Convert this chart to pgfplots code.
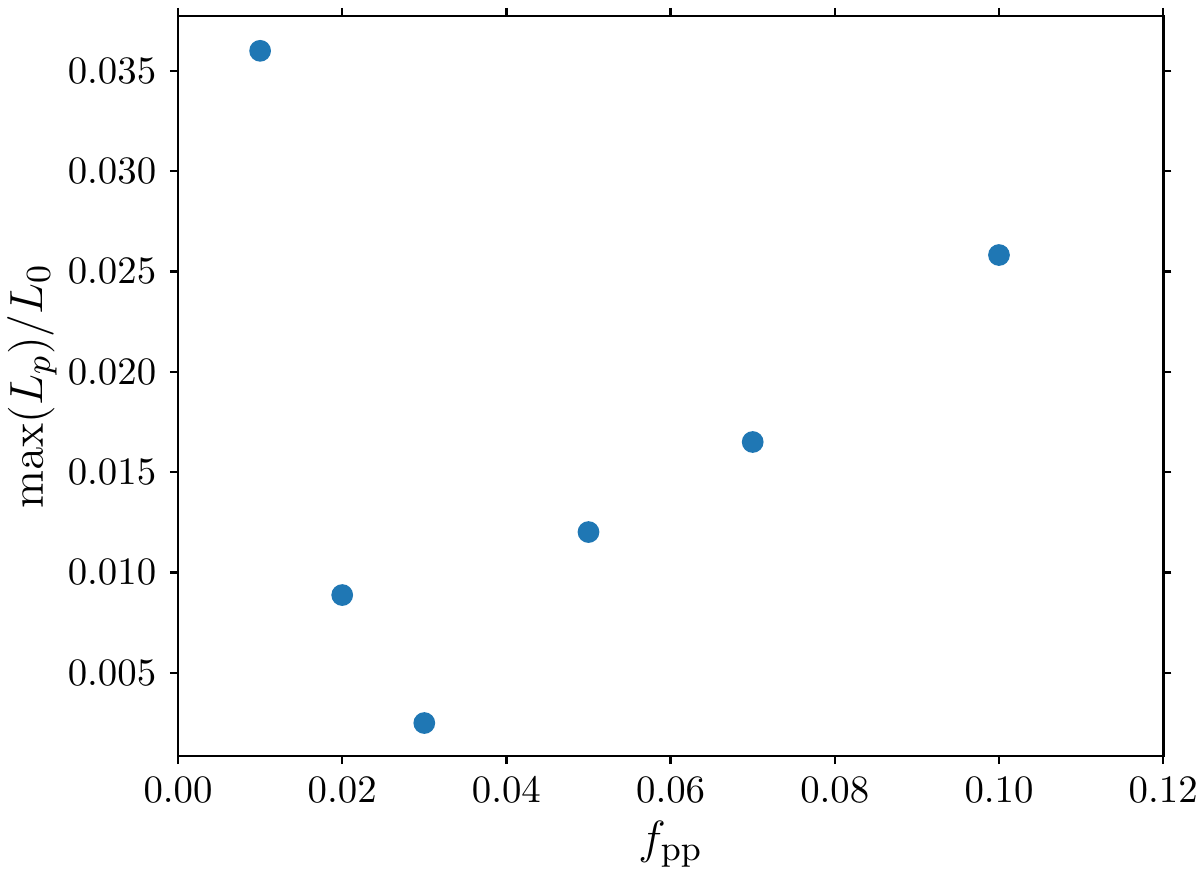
\documentclass[border=0pt]{standalone}
\usepackage{pgfplots}
\pgfplotsset{compat=1.18}
\definecolor{mplblue}{RGB}{31,119,180}

\begin{document}
\begin{tikzpicture}
    \begin{axis}[
        scale only axis,
        width=254pt,
        height=190.8pt,
        xmin=0, xmax=0.12,
        ymin=0.00085, ymax=0.03774,
        xtick={0,0.02,0.04,0.06,0.08,0.10,0.12},
        ytick={0.005,0.010,0.015,0.020,0.025,0.030,0.035},
        scaled x ticks=false,
        scaled y ticks=false,
        xticklabel style={/pgf/number format/.cd, fixed, fixed zerofill, precision=2},
        yticklabel style={/pgf/number format/.cd, fixed, fixed zerofill, precision=3},
        tick align=outside,
        major tick length=2.1pt,
        tick style={black, line width=0.6pt},
        axis line style={line width=0.7pt},
        xlabel={$f_{\mathrm{pp}}$},
        ylabel={$\max(L_p)/L_0$},
        label style={font=\fontsize{13}{15}\selectfont},
        xlabel style={yshift=2pt},
        ylabel style={yshift=-4pt},
    ]
    \addplot[only marks, mark=*, mark size=2.6pt, color=mplblue] coordinates {
        (0.01, 0.0360)
        (0.02, 0.00887)
        (0.03, 0.00249)
        (0.05, 0.01201)
        (0.07, 0.01650)
        (0.10, 0.02582)
    };
    \coordinate (bl) at (rel axis cs:0,0);
    \coordinate (tr) at (rel axis cs:1,1);
    \end{axis}
    \pgfresetboundingbox
    \path[use as bounding box] ([shift={(-45.9pt,-30.4pt)}]bl) rectangle ([shift={(9.5pt,4.1pt)}]tr);
\end{tikzpicture}
\end{document}
